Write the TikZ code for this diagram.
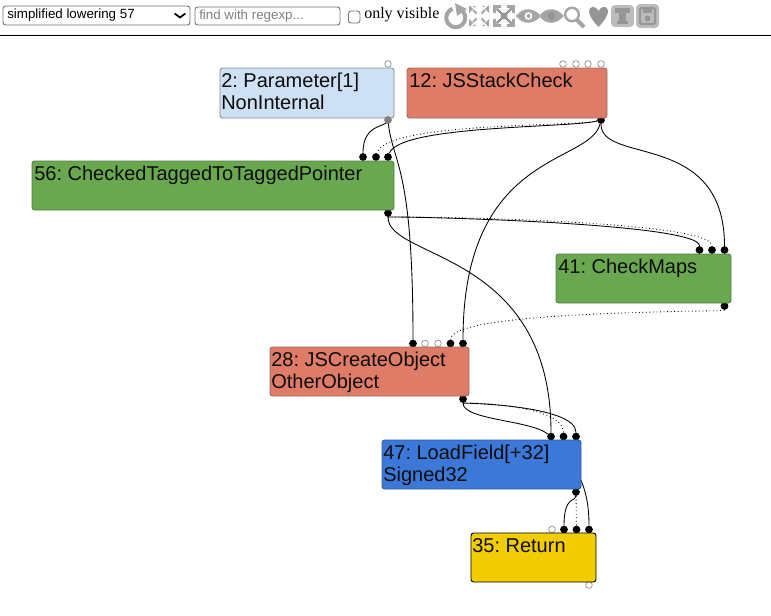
\documentclass[tikz,border=0pt]{standalone}
\usepackage{fontspec}
\setmainfont{Liberation Sans}
\newfontfamily\serifui{Liberation Serif}
\definecolor{ico}{RGB}{165,165,165}
\definecolor{icobg}{RGB}{188,188,188}
\definecolor{icofg}{RGB}{150,150,150}
\definecolor{fillblue}{RGB}{206,224,244}
\definecolor{fillred}{RGB}{223,124,104}
\definecolor{fillgreen}{RGB}{106,168,79}
\definecolor{filldeep}{RGB}{60,120,216}
\definecolor{fillyellow}{RGB}{241,204,0}
\tikzset{
 opnode/.style={rounded corners=2pt,line width=0.7pt},
 lbl/.style={anchor=north west,inner sep=0pt,align=left,font=\fontsize{15}{16.6}\selectfont,text=black!95},
 wire/.style={line width=0.65pt,black},
 dotwire/.style={line width=0.65pt,black,dotted},
 portin/.style={circle,fill=black,inner sep=0pt,minimum size=5.8pt},
 portoff/.style={circle,draw=black!45,fill=white,line width=0.5pt,inner sep=0pt,minimum size=5pt},
 ctl/.style={draw=black!55,rounded corners=2pt,fill=white,line width=0.7pt},
}
\begin{document}
\frenchspacing
\begin{tikzpicture}[x=0.75pt,y=-0.75pt]
\useasboundingbox (0,0) rectangle (771,615);
% toolbar
\path[ctl] (3,6) rectangle (190,25);
\node[anchor=west,inner sep=0pt,font=\fontsize{10}{12}\selectfont] (sel) at (7,15.5) {simplified lowering 57};
\coordinate (chk) at (180,15.5);
\draw[line width=1.3pt] ([xshift=-4pt,yshift=1.5pt]chk) -- ([yshift=-1.5pt]chk) -- ([xshift=4pt,yshift=1.5pt]chk);
\path[ctl] (195,7) rectangle (340,25);
\node[anchor=west,inner sep=0pt,text=black!50,font=\fontsize{10}{12}\selectfont] (find) at (199,16) {find with regexp...};
\path[ctl] (348.5,11) rectangle (360,23);
\node[anchor=west,inner sep=0pt,font=\serifui\fontsize{12}{14}\selectfont] (vis) at (364,15) {only visible};
\draw[black,line width=0.8pt] (0,35.5) -- (771,35.5);
\draw[yellow!8!black!6,line width=0.6pt] (0,34) -- (771,34);
% icons
\draw[ico,line width=3pt] (460.5,9.5) arc[start angle=-60,end angle=250,radius=9.5];
\fill[ico] (455,3) -- (467,9) -- (457,16) -- cycle;
\foreach \sx/\sy in {1/1,1/-1,-1/1,-1/-1}{
 \begin{scope}[shift={(479,16)},xscale=\sx,yscale=\sy]
  \fill[ico] (3,10) -- (10,10) -- (10,3)--cycle;
  \draw[white,line width=1.2pt] (3,5.5) -- (7.5,10);
  \draw[ico,line width=1.4pt] (2.5,2.5) -- (6,6);
 \end{scope}
 \begin{scope}[shift={(504,16)},xscale=\sx,yscale=\sy]
  \draw[ico,line width=1.8pt] (3,9.5) -- (9.5,9.5) -- (9.5,3);
  \draw[icofg,line width=1.8pt] (2,2) -- (7.5,7.5);
 \end{scope}
}
\fill[icofg] (504,16) circle (3.5);
\fill[ico,even odd rule] (516,16) .. controls (523,7) and (533,7) .. (541,16) .. controls (533,25) and (523,25) .. (516,16) -- cycle (528.5,16) circle (4);
\fill[ico] (528.5,16) circle (2);
\fill[ico] (539,16) .. controls (546,7) and (556,7) .. (564,16) .. controls (556,25) and (546,25) .. (539,16) -- cycle;
\fill[icofg] (551.5,16) circle (4);
\draw[ico,line width=1.8pt] (572,14.5) circle (6.8);
\draw[ico,line width=3pt] (577,20) -- (584,27);
\fill[icofg] (598.5,27) .. controls (592,20) and (589,15) .. (589,11) .. controls (589,6) and (596,5) .. (598.5,11) .. controls (601,5) and (608,6) .. (608,11) .. controls (608,15) and (605,20) .. (598.5,27) -- cycle;
\fill[icobg,rounded corners=3pt] (611,5) rectangle (634,27);
\fill[icofg] (614.5,8) rectangle (630,13);
\fill[icofg] (619,8) rectangle (626,24);
\fill[icofg] (617,21) rectangle (628,24);
\fill[icobg,rounded corners=3pt] (636,4) rectangle (659,28);
\draw[icofg,line width=1.6pt,rounded corners=1pt] (640,8) rectangle (655,24);
\fill[icofg] (643,8) rectangle (652,13);
\fill[icofg] (647.5,18.5) circle (3);
% ports
\node[portoff] (p2o) at (388,64) {};
\node[portoff] (p12a) at (563,64) {};
\node[portoff] (p12b) at (576,64) {};
\node[portoff] (p12c) at (588,64) {};
\node[portoff] (p12d) at (601,64) {};
\node[portoff] (p28b) at (425,343.5) {};
\node[portoff] (p28c) at (438,343.5) {};
\node[portoff] (p35o) at (552,529.5) {};
\node[portoff] (p35e) at (589,585) {};
\coordinate (under47) at (576,470);
\coordinate (o2c) at (388,120);
\node[portin] (o12) at (601,120) {};
\node[portin] (o56) at (388,213) {};
\node[portin] (o41) at (724.5,306) {};
\node[portin] (o28) at (463,399) {};
\node[portin] (o47) at (576,492) {};
\node[portin] (i56a) at (363,157) {};
\node[portin] (i56b) at (376,157) {};
\node[portin] (i56c) at (388,157) {};
\node[portin] (i41a) at (699.5,250) {};
\node[portin] (i41b) at (712,250) {};
\node[portin] (i41c) at (724.5,250) {};
\node[portin] (i28a) at (413,343.5) {};
\node[portin] (i28d) at (450.5,343.5) {};
\node[portin] (i28e) at (463,343.5) {};
\node[portin] (i47a) at (551,436.5) {};
\node[portin] (i47b) at (563.5,436.5) {};
\node[portin] (i47c) at (576,436.5) {};
\node[portin] (i35a) at (564,529.5) {};
\node[portin] (i35b) at (576.5,529.5) {};
\node[portin] (i35c) at (589,529.5) {};
% connectors
\draw[wire] (o2c) .. controls (388,128) and (363,122) .. (i56a);
\draw[wire] (o2c) .. controls (392,165) and (413,160) .. (i28a);
\draw[wire] (o12) .. controls (570,128) and (400,125) .. (i56c);
\draw[dotwire] (o12) .. controls (570,127) and (386,122) .. (i56b);
\draw[wire] (o12) .. controls (590,165) and (463,150) .. (i28e);
\draw[wire] (o12) .. controls (601,165) and (724.5,130) .. (i41c);
\draw[wire] (o56) .. controls (388,216) and (699.5,222) .. (i41a);
\draw[dotwire] (o56) .. controls (388,216) and (712,219) .. (i41b);
\draw[wire] (o56) .. controls (388,260) and (551,250) .. (i47a);
\draw[dotwire] (o41) .. controls (724.5,312) and (450.5,310) .. (i28d);
\draw[wire] (o28) .. controls (463,420) and (530,420) .. (i47a);
\draw[dotwire] (o28) .. controls (463,402) and (563.5,404) .. (i47b);
\draw[wire] (o28) .. controls (463,403) and (576,405) .. (i47c);
\draw[wire] (under47) .. controls (584,485) and (589,500) .. (i35c);
\draw[wire] (o47) .. controls (576,502) and (564,495) .. (i35a);
\draw[dotwire] (o47) -- (i35b);
% nodes
\path[opnode,fill=fillblue,draw={rgb,255:red,130;green,140;blue,155}] (220,68) rectangle (394,118);
\path[opnode,fill=fillred,draw={rgb,255:red,150;green,110;blue,100}] (407,68) rectangle (607,118);
\path[opnode,fill=fillgreen,draw={rgb,255:red,85;green,125;blue,70}] (32,161) rectangle (394,210);
\path[opnode,fill=fillgreen,draw={rgb,255:red,85;green,125;blue,70}] (556,254) rectangle (731,303);
\path[opnode,fill=fillred,draw={rgb,255:red,150;green,110;blue,100}] (270,347) rectangle (469,396);
\path[opnode,fill=filldeep,draw={rgb,255:red,50;green,90;blue,150}] (382,440) rectangle (581,489);
\path[opnode,fill=fillyellow,draw=black] (471,533) rectangle (596,582);
\node[portin,fill=black!50] (o2) at (388,120) {};
\node[lbl] (t2) at (221,73) {2: Parameter[1]\\NonInternal};
\node[lbl] (t12) at (409,73) {12: JSStackCheck};
\node[lbl] (t56) at (34,166) {56: CheckedTaggedToTaggedPointer};
\node[lbl] (t41) at (558,259) {41: CheckMaps};
\node[lbl] (t28) at (271,352) {28: JSCreateObject\\OtherObject};
\node[lbl] (t47) at (383,445) {47: LoadField[+32]\\Signed32};
\node[lbl] (t35) at (472,538) {35: Return};
\end{tikzpicture}
\end{document}
